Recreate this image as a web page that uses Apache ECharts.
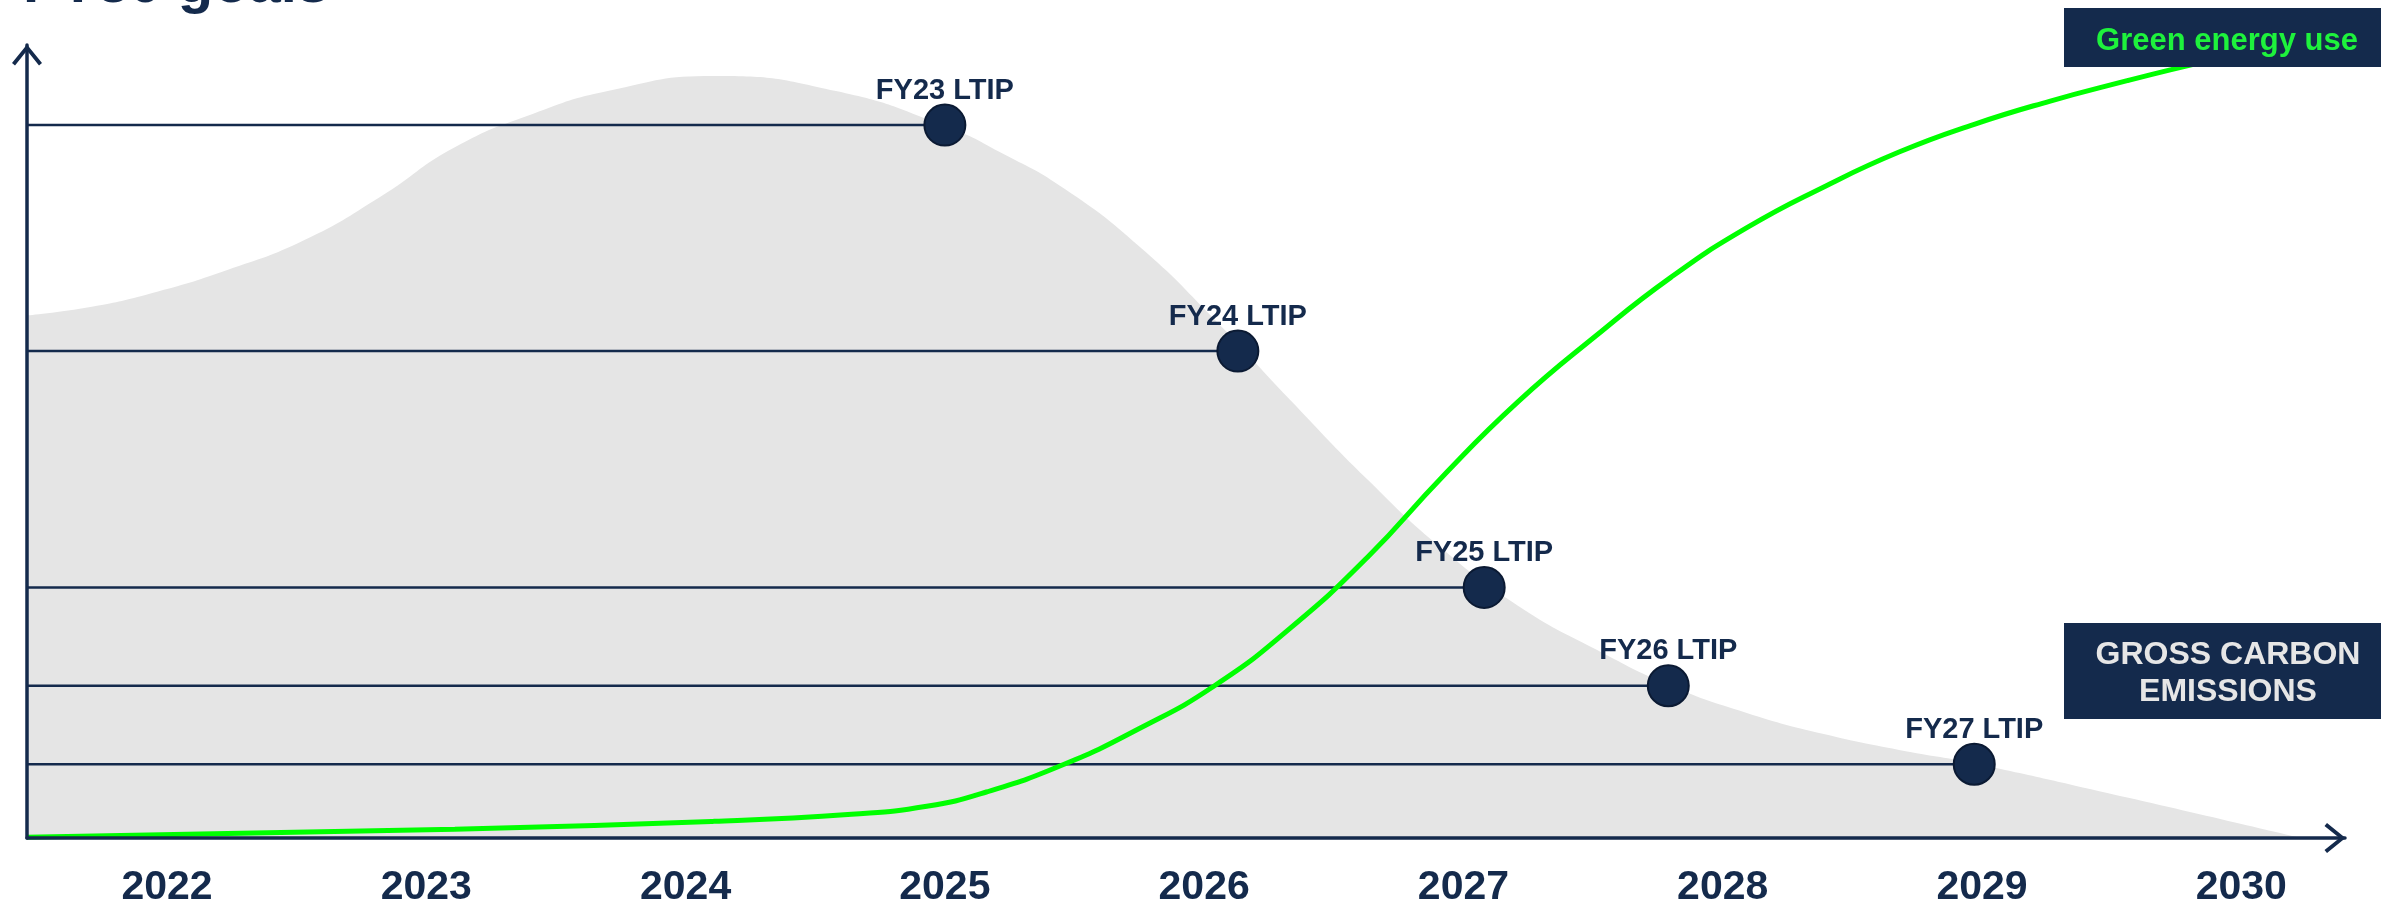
<!DOCTYPE html>
<html>
<head>
<meta charset="utf-8">
<script src="https://cdn.jsdelivr.net/npm/echarts@6/dist/echarts.min.js"></script>
<style>
  html, body { margin: 0; padding: 0; background: #fff; }
  #chart { width: 2381px; height: 904px; }
</style>
</head>
<body>
<div id="chart"></div>
<script>
// tick labels on the time axis
const yearTicks = [2022, 2023, 2024, 2025, 2026, 2027, 2028, 2029, 2030];

// grey "gross carbon emissions" shape
const emissionYears = [2021.46, 2021.71, 2021.94, 2022.23, 2022.53, 2022.82, 2023.11, 2023.41, 2023.70, 2024.11, 2024.58, 2025.00, 2025.23, 2025.46, 2025.75, 2026.04, 2026.33, 2026.63, 2026.92, 2027.21, 2027.51, 2027.80, 2028.09, 2028.39, 2028.68, 2028.97, 2029.56, 2030.23];
const emissionValues = [65.9, 67.0, 68.7, 71.6, 75.4, 80.8, 87.1, 91.3, 94.2, 96.1, 94.2, 89.8, 86.2, 81.9, 74.6, 65.4, 55.3, 45.2, 36.4, 29.3, 23.8, 19.2, 15.8, 13.1, 11.1, 9.4, 5.1, 0];

// green energy use curve
const greenYears = [2021.46, 2023.11, 2024.11, 2024.64, 2024.93, 2025.16, 2025.46, 2025.75, 2026.04, 2026.33, 2026.63, 2026.92, 2027.21, 2027.51, 2027.80, 2028.09, 2028.39, 2028.68, 2028.97, 2029.26, 2029.56, 2029.73, 2029.90];
const greenValues = [0.1, 1.1, 2.1, 3.0, 4.0, 5.8, 9.3, 13.8, 19.2, 26.4, 35.4, 45.6, 55.0, 63.3, 70.7, 76.9, 82.1, 86.5, 90.0, 92.9, 95.5, 96.9, 98.2];

// LTIP milestones
const milestoneNames = ['FY23 LTIP', 'FY24 LTIP', 'FY25 LTIP', 'FY26 LTIP', 'FY27 LTIP'];
const milestoneYears = [2025.0, 2026.13, 2027.08, 2027.79, 2028.97];
const milestoneValues = [89.9, 61.4, 31.6, 19.2, 9.3];

const NAVY = '#142a4c';
const FONT = "'Liberation Sans', Arial, sans-serif";
const X_MIN = 2021.46;
const X_MAX = 2030.40;

// open chevron used as the axis arrow heads
const chevron = 'path://M15,0 L30,18.5 L27,21 L15,6 L3,21 L0,18.5 Z';

const zip = (xs, ys) => xs.map((x, i) => [x, ys[i]]);

const chart = echarts.init(document.getElementById('chart'));

const milestoneLines = milestoneYears.map((yr, i) => ({
    type: 'line',
    data: [[X_MIN, milestoneValues[i]], [yr, milestoneValues[i]]],
    symbol: 'none',
    lineStyle: { color: NAVY, width: 2.5 },
    silent: true,
    z: 2
}));

const option = {
    animation: false,
    backgroundColor: '#fff',
    grid: { left: 27, right: 36, top: 45, bottom: 66, outerBoundsMode: 'none' },
    xAxis: {
        type: 'value',
        min: X_MIN,
        max: X_MAX,
        z: 10,
        axisLine: {
            show: true,
            lineStyle: { color: NAVY, width: 3.5 },
            symbol: ['none', chevron],
            symbolSize: [30, 21],
            symbolOffset: [0, -10]
        },
        axisTick: { show: false },
        splitLine: { show: false },
        axisLabel: {
            customValues: yearTicks,
            formatter: (v) => String(Math.round(v)),
            fontSize: 41,
            fontWeight: 'bold',
            fontFamily: FONT,
            color: NAVY,
            margin: 29
        }
    },
    yAxis: {
        type: 'value',
        min: 0,
        max: 100,
        z: 10,
        axisLine: {
            show: true,
            lineStyle: { color: NAVY, width: 3.5 },
            symbol: ['none', chevron],
            symbolSize: [30, 21],
            symbolOffset: [0, -10]
        },
        axisTick: { show: false },
        splitLine: { show: false },
        axisLabel: { show: false }
    },
    series: [
        {
            name: 'Gross carbon emissions',
            type: 'line',
            data: zip(emissionYears, emissionValues),
            smooth: 0.5,
            symbol: 'none',
            lineStyle: { width: 0 },
            areaStyle: { color: '#e5e5e5', opacity: 1 },
            silent: true,
            z: 1
        },
        ...milestoneLines,
        {
            name: 'Green energy use',
            type: 'line',
            data: zip(greenYears, greenValues),
            smooth: 0.5,
            symbol: 'none',
            lineStyle: { color: '#00ff00', width: 5 },
            silent: true,
            z: 3
        },
        {
            name: 'LTIP',
            type: 'scatter',
            data: milestoneYears.map((yr, i) => ({ name: milestoneNames[i], value: [yr, milestoneValues[i]] })),
            symbolSize: 41,
            itemStyle: { color: NAVY, borderColor: '#0b1a33', borderWidth: 2, opacity: 1 },
            label: {
                show: true,
                position: 'top',
                distance: -2,
                formatter: '{b}',
                fontSize: 29,
                fontWeight: 'bold',
                fontFamily: FONT,
                color: NAVY,
                lineHeight: 30
            },
            z: 4
        }
    ],
    graphic: [
        {
            type: 'text',
            x: 23,
            y: -14,
            z: 100,
            style: {
                text: 'FY30 goals',
                fontSize: 58,
                fontWeight: 'bold',
                fontFamily: FONT,
                fill: NAVY,
                verticalAlign: 'middle'
            }
        },
        {
            type: 'rect',
            z: 100,
            shape: { x: 2064, y: 8, width: 317, height: 59 },
            style: { fill: NAVY }
        },
        {
            type: 'text',
            x: 2227,
            y: 41,
            z: 101,
            style: {
                text: 'Green energy use',
                fontSize: 31,
                fontWeight: 'bold',
                fontFamily: FONT,
                fill: '#1ef23c',
                align: 'center',
                verticalAlign: 'middle'
            }
        },
        {
            type: 'rect',
            z: 100,
            shape: { x: 2064, y: 623, width: 317, height: 96 },
            style: { fill: NAVY }
        },
        {
            type: 'text',
            x: 2228,
            y: 674,
            z: 101,
            style: {
                text: 'GROSS CARBON\nEMISSIONS',
                fontSize: 32,
                fontWeight: 'bold',
                fontFamily: FONT,
                fill: '#e6e6e6',
                align: 'center',
                verticalAlign: 'middle',
                lineHeight: 37
            }
        }
    ]
};

chart.setOption(option);
</script>
</body>
</html>
